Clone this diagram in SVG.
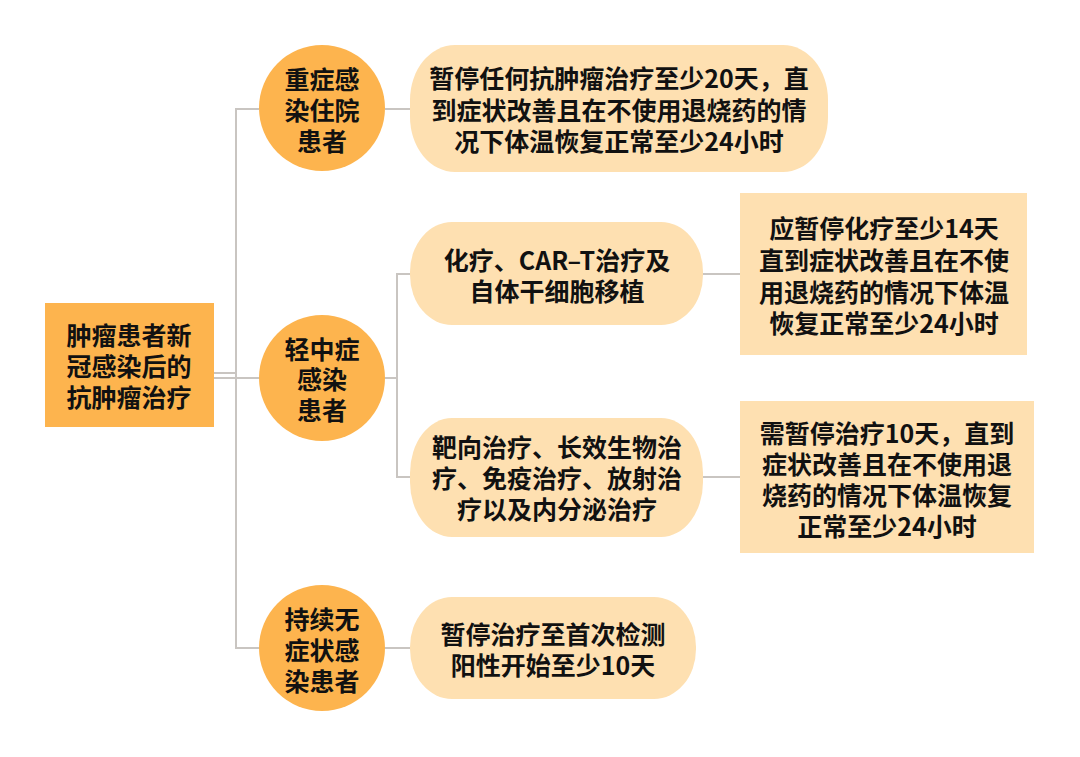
<svg xmlns="http://www.w3.org/2000/svg" width="1080" height="757" viewBox="0 0 1080 757">
<style>
text{font-family:"Noto Sans CJK SC","Noto Sans",sans-serif;font-size:25px;font-weight:700;fill:#111;text-anchor:middle;dominant-baseline:central}
.dark{fill:#FDB44E}
.light{fill:#FEE0B1}
.ln{stroke:#C9C5C1;stroke-width:2;fill:none}
</style>
<rect width="1080" height="757" fill="#fff"/>
<g id="connectors">
<path class="ln" d="M214 373H236M214 378H259"/>
<path class="ln" d="M259 109H236V648H259"/>
<path class="ln" d="M385 109H410"/>
<path class="ln" d="M385 378H397M410 274H397V477H410"/>
<path class="ln" d="M703 274H740M703 477H740"/>
<path class="ln" d="M384 648H410"/>
</g>
<g id="root">
<rect class="dark" x="45" y="303" width="169" height="124"/>
<text><tspan x="129" y="334">肿瘤患者新</tspan><tspan x="129" y="365">冠感染后的</tspan><tspan x="129" y="396">抗肿瘤治疗</tspan></text>
</g>
<g id="severe">
<circle class="dark" cx="322" cy="108" r="63"/>
<text><tspan x="322" y="78">重症感</tspan><tspan x="322" y="109">染住院</tspan><tspan x="322" y="140">患者</tspan></text>
</g>
<g id="mild">
<circle class="dark" cx="322" cy="378" r="63"/>
<text><tspan x="322" y="348">轻中症</tspan><tspan x="322" y="378">感染</tspan><tspan x="322" y="409">患者</tspan></text>
</g>
<g id="asymptomatic">
<circle class="dark" cx="322" cy="648" r="63"/>
<text><tspan x="322" y="618">持续无</tspan><tspan x="322" y="649">症状感</tspan><tspan x="322" y="680">染患者</tspan></text>
</g>
<g id="severe-action">
<rect class="light" x="410" y="45" width="418" height="127" rx="45" ry="55"/>
<text><tspan x="619" y="77">暂停任何抗肿瘤治疗至少20天，直</tspan><tspan x="619" y="109">到症状改善且在不使用退烧药的情</tspan><tspan x="619" y="140">况下体温恢复正常至少24小时</tspan></text>
</g>
<g id="chemo">
<rect class="light" x="410" y="222" width="293" height="103" rx="42" ry="50"/>
<text><tspan x="557" y="259">化疗、CAR–T治疗及</tspan><tspan x="557" y="290">自体干细胞移植</tspan></text>
</g>
<g id="chemo-action">
<rect class="light" x="740" y="193" width="287" height="162"/>
<text><tspan x="884" y="227">应暂停化疗至少14天</tspan><tspan x="884" y="259">直到症状改善且在不使</tspan><tspan x="884" y="291">用退烧药的情况下体温</tspan><tspan x="884" y="322">恢复正常至少24小时</tspan></text>
</g>
<g id="targeted">
<rect class="light" x="410" y="418" width="293" height="119" rx="42" ry="55"/>
<text><tspan x="557" y="446">靶向治疗、长效生物治</tspan><tspan x="557" y="477">疗、免疫治疗、放射治</tspan><tspan x="557" y="508">疗以及内分泌治疗</tspan></text>
</g>
<g id="targeted-action">
<rect class="light" x="740" y="401" width="294" height="152"/>
<text><tspan x="887" y="432">需暂停治疗10天，直到</tspan><tspan x="887" y="463">症状改善且在不使用退</tspan><tspan x="887" y="494">烧药的情况下体温恢复</tspan><tspan x="887" y="525">正常至少24小时</tspan></text>
</g>
<g id="asymptomatic-action">
<rect class="light" x="410" y="597" width="286" height="102" rx="42" ry="50"/>
<text><tspan x="553" y="633">暂停治疗至首次检测</tspan><tspan x="553" y="664">阳性开始至少10天</tspan></text>
</g>
</svg>
